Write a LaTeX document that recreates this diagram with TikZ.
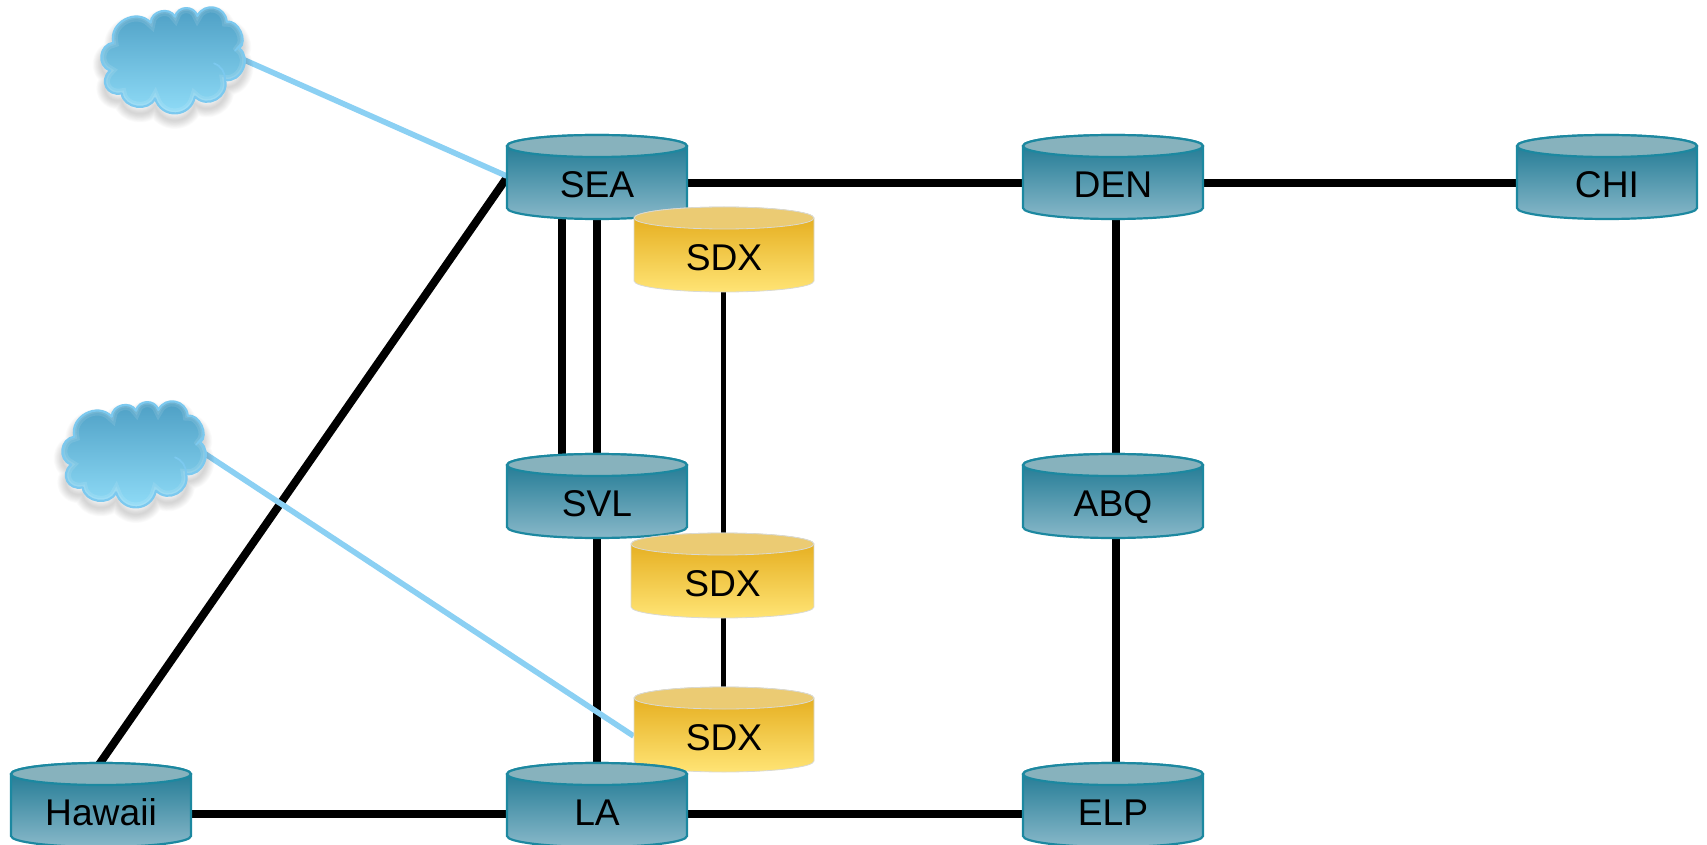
\documentclass[tikz,border=0pt]{standalone}
\usepackage{fontspec}
\setmainfont{Liberation Sans}
\usetikzlibrary{backgrounds}
\definecolor{rtop}{HTML}{17748F}
\definecolor{rbot}{HTML}{88B8C9}
\definecolor{rcap}{HTML}{87B2BD}
\definecolor{rline}{HTML}{1C88A0}
\definecolor{stop}{HTML}{E2A816}
\definecolor{sbot}{HTML}{FFE475}
\definecolor{scap}{HTML}{EBCB73}
\definecolor{sline}{HTML}{D9D9D2}
\definecolor{link}{HTML}{8BD0F3}
\definecolor{ctop}{HTML}{4A9CC2}
\definecolor{cbot}{HTML}{93DFFA}
\definecolor{cline}{HTML}{7CC9EF}
\tikzset{
  x=0.5pt,y=-0.5pt,
  nodelabel/.style={inner sep=0pt,minimum width=90pt,minimum height=36pt,text height=14.5pt,text depth=0pt,font=\fontsize{18.6pt}{20pt}\selectfont,text=black},
  thick link/.style={draw=black,line width=4pt},
  thin link/.style={draw=black,line width=2.6pt},
  blue link/.style={draw=link,line width=2.8pt},
}
\def\cylhw{90}
% \cyl{name}{cx}{top}{bottom}{label}{top col}{bottom col}{cap col}{line col}
\newcommand{\cyl}[9]{%
  \path[draw=#9,line width=\cylw,top color=#6,bottom color=#7,shading angle=0]
    (#2-\cylhw,#3+11) -- (#2-\cylhw,#4-11)
    arc[start angle=180,end angle=360,x radius=\cylhw*0.5pt,y radius=5.5pt]
    -- (#2+\cylhw,#3+11)
    arc[start angle=0,end angle=180,x radius=\cylhw*0.5pt,y radius=5.5pt] -- cycle;
  \path[draw=#9,line width=\cylw,fill=#8] (#2,#3+11) ellipse[x radius=\cylhw*0.5pt,y radius=5.5pt];
  \node[nodelabel] (#1) at (#2,#4-36) {#5};%
}
\newcommand{\router}[4]{\def\cylw{1.1pt}\cyl{#1}{#2}{#3}{#3+84}{#4}{rtop}{rbot}{rcap}{rline}}
\newcommand{\sdx}[4]{\def\cylw{0.4pt}\cyl{#1}{#2}{#3}{#3+85}{#4}{stop}{sbot}{scap}{sline}}
% cloud outline, in units of a third of a pixel
\def\cloudpath{(160,128) to[bend left=75,looseness=1.25] (272,68) to[bend left=75,looseness=1.2] (345,50) to[bend left=75,looseness=1.3] (412,48)
  to[bend left=75,looseness=1.35] (500,65) to[bend left=75,looseness=1.0] (538,145) to[bend left=75,looseness=1.2] (495,240)
  to[bend left=75,looseness=1.3] (405,290) to[bend left=75,looseness=1.4] (285,295) to[bend left=75,looseness=1.15] (185,280)
  to[bend left=75,looseness=1.5] (150,212) to[bend left=75,looseness=1.3] (160,128) -- cycle}
\newcommand{\cloud}[3]{%
  \begin{scope}[shift={(#2,#3)},x=0.1667pt,y=-0.1667pt]
    \foreach \w in {0.6,1.4,...,9}{\path[draw=black,line width=\w pt,opacity=0.014,yshift=-3.5pt,line join=round] \cloudpath;}
    \path[top color=ctop,bottom color=cbot,shading angle=0] \cloudpath;
    \begin{scope}
      \clip \cloudpath;
      \path[draw=white,opacity=.1,line width=5pt] \cloudpath;
      \path[draw=white,opacity=.1,line width=2.6pt] \cloudpath;
    \end{scope}
    \path[draw=cline,line width=1.1pt,line join=round] \cloudpath;
    \path[draw=cline,line width=0.9pt,line cap=round] (525,152) -- (545,130);
    \path[draw=cline,line width=0.9pt,line cap=round] (462,190) to[bend left=35] (495,240);
  \end{scope}
  \node[inner sep=0pt,minimum width=72pt,minimum height=54pt] (#1) at ([xshift=56pt,yshift=-30pt]#2+0,#3) {};%
}
\begin{document}
\begin{tikzpicture}
\useasboundingbox (0,0) rectangle (1707,845);
\clip (0,0) rectangle (1707,845);
\cloud{cloudA}{60}{0}
\cloud{cloudB}{21}{394}
\router{sea}{597}{135}{SEA}
\router{den}{1113}{135}{DEN}
\router{chi}{1607}{135}{CHI}
\router{svl}{597}{454}{SVL}
\router{abq}{1113}{454}{ABQ}
\sdx{sdxa}{724}{207}{SDX}
{\def\cylhw{91.5}\sdx{sdxb}{722.5}{533}{SDX}}
\sdx{sdxc}{724}{687}{SDX}
\router{hawaii}{101}{763}{Hawaii}
\router{la}{597}{763}{LA}
\router{elp}{1113}{763}{ELP}
\begin{scope}[on background layer]
  \draw[thick link] (sea.east) -- (den.west);
  \draw[thick link] (den.east) -- (chi.west);
  \draw[thick link] ([yshift=-1.35pt]hawaii.east) -- ([yshift=-1.35pt]la.west);
  \draw[thick link] ([yshift=-1.35pt]la.east) -- ([yshift=-1.35pt]elp.west);
  \draw[thick link] ([xshift=-17.5pt]sea.south) -- ([xshift=-17.5pt]svl.north);
  \draw[thick link] (sea.south) -- (svl.north);
  \draw[thick link] (svl.south) -- (la.north);
  \draw[thick link] ([xshift=1.5pt]den.south) -- ([xshift=1.5pt]abq.north);
  \draw[thick link] ([xshift=1.5pt]abq.south) -- ([xshift=1.5pt]elp.north);
  \draw[thick link] ([xshift=-4.5pt]hawaii.north) -- ([yshift=2.5pt]sea.west);
  \draw[thin link] ([xshift=-0.25pt]sdxa.south) -- ([xshift=-0.25pt]sdxa.south |- sdxb.north);
  \draw[thin link] ([xshift=-0.25pt]sdxa.south |- sdxb.south) -- ([xshift=-0.25pt]sdxa.south |- sdxc.north);
  \draw[blue link] (cloudA.east) -- ([yshift=3.5pt]sea.west);
  \draw[blue link] (cloudB.east) -- (sdxc.west);
\end{scope}
\end{tikzpicture}
\end{document}
